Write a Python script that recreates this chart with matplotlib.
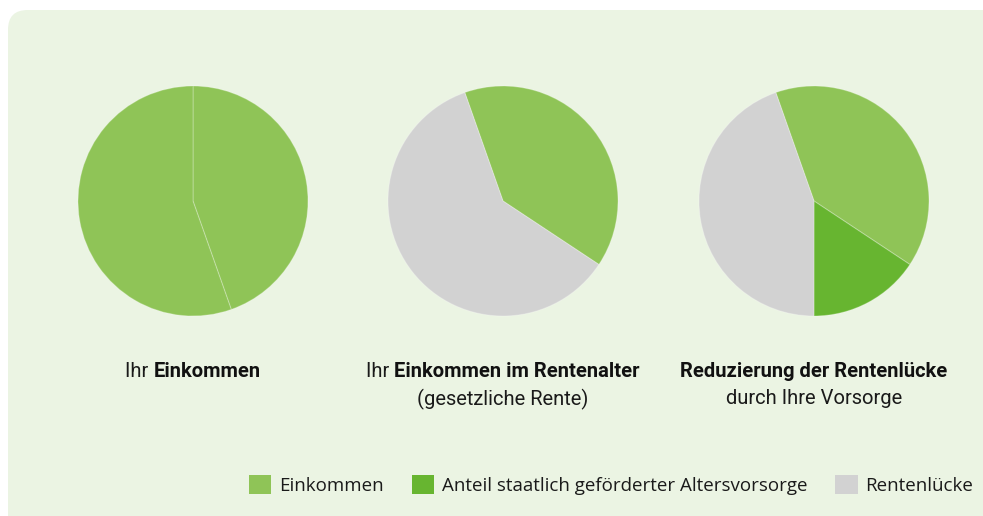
import matplotlib.pyplot as plt
from matplotlib.patches import FancyBboxPatch, Patch
from matplotlib.offsetbox import TextArea, HPacker, VPacker, AnnotationBbox
from matplotlib import font_manager

# Daten
kategorien = ['Einkommen', 'Anteil staatlich geförderter Altersvorsorge', 'Rentenlücke']
farben = ['#8fc457', '#67b530', '#d2d2d2']

werte_heute = [44.6, 55.4]          # beide Einkommen
werte_rente = [39.7, 60.3]          # Einkommen, Rentenlücke
werte_vorsorge = [39.7, 15.7, 44.6]  # Einkommen, Anteil, Rentenlücke

titel_normal = ['Ihr ', 'Ihr ', '']
titel_fett = ['Einkommen', 'Einkommen im Rentenalter', 'Reduzierung der Rentenlücke']
untertitel = ['', '(gesetzliche Rente)', 'durch Ihre Vorsorge']

hintergrund = '#ebf4e3'

namen = {f.name for f in font_manager.fontManager.ttflist}
schmal = 'Liberation Sans Narrow' if 'Liberation Sans Narrow' in namen else 'Roboto'
legfont = 'Open Sans' if 'Open Sans' in namen else 'DejaVu Sans'

W, H = 983, 516
fig = plt.figure(figsize=(W / 100, H / 100), dpi=100)
fig.patch.set_facecolor('white')

# abgerundete Hintergrundfläche
panel = FancyBboxPatch((8 / W, -0.05), 1.2, (H - 10) / H + 0.05,
                       boxstyle='round,pad=0,rounding_size=0.02',
                       transform=fig.transFigure, facecolor=hintergrund,
                       edgecolor='none', mutation_aspect=W / H, zorder=-5)
fig.patches.append(panel)


def torte(cx, werte, cols, start):
    r = 115
    cy = 201
    ax = fig.add_axes([(cx - r) / W, (H - cy - r) / H, 2 * r / W, 2 * r / H])
    ax.pie(werte, colors=cols, startangle=start, counterclock=False,
           wedgeprops=dict(edgecolor=(1, 1, 1, 0.25), linewidth=0.8))
    ax.set_xlim(-1, 1)
    ax.set_ylim(-1, 1)
    ax.set_aspect('equal')
    ax.axis('off')


mitten = [193, 503, 814]
torte(mitten[0], werte_heute, [farben[0], farben[0]], 90)
torte(mitten[1], werte_rente, [farben[0], farben[2]], 109.4)
torte(mitten[2], werte_vorsorge, farben, 109.4)

# Beschriftungen
for i, cx in enumerate(mitten):
    teile = []
    if titel_normal[i]:
        teile.append(TextArea(titel_normal[i], textprops=dict(
            family=schmal, size=14.5, color='#1a1a1a')))
    teile.append(TextArea(titel_fett[i], textprops=dict(
        family=schmal, size=14.5, weight='bold', color='#111111')))
    zeile1 = HPacker(children=teile, pad=0, sep=0, align='baseline')
    kinder = [zeile1]
    if untertitel[i]:
        kinder.append(TextArea(untertitel[i], textprops=dict(
            family=schmal, size=14.5, color='#1a1a1a')))
    box = VPacker(children=kinder, pad=0, sep=6, align='center')
    ab = AnnotationBbox(box, (cx / W, (H - 362) / H), xycoords='figure fraction',
                        box_alignment=(0.5, 1), frameon=False)
    fig.add_artist(ab)

# Legende
griffe = [Patch(facecolor=c, edgecolor='none') for c in farben]
fig.legend(griffe, kategorien, loc='center', ncol=3, frameon=False,
           bbox_to_anchor=(611 / W, (H - 485) / H), borderpad=0,
           handlelength=1.2, handleheight=1.2, handletextpad=0.4,
           columnspacing=1.5,
           prop=dict(family=legfont, size=13.5), labelcolor='#1a1a1a')

fig.savefig('out.png', dpi=100, facecolor='white')
